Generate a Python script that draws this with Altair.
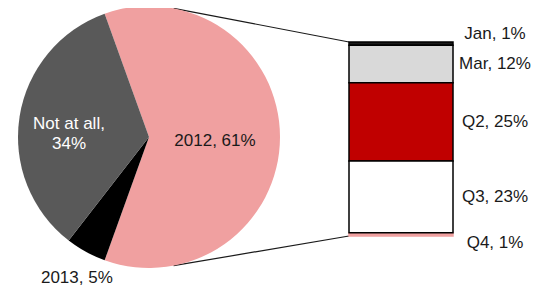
import math
import altair as alt
import pandas as pd

# ---- data ----
pie_names = ["2012", "2013", "Not at all"]
pie_values = [61, 5, 34]
pie_labels = ["2012, 61%", "2013, 5%", "Not at all,\n34%"]

bar_names = ["Jan", "Mar", "Q2", "Q3", "Q4"]
bar_values = [1, 12, 25, 23, 1]
bar_labels = ["Jan, 1%", "Mar, 12%", "Q2, 25%", "Q3, 23%", "Q4, 1%"]

# ---- styles / layout ----
PINK = "#F0A0A0"
pie_colors = [PINK, "#000000", "#595959"]
bar_colors = ["#1a1a1a", "#D9D9D9", "#C00000", "#FFFFFF", PINK]
FONT = "Liberation Sans"
FS = 17

W, H = 523, 279
CX, CY, R = 141, 129, 131
BAR_X0, BAR_X1 = 341, 445
BAR_TOP, BAR_BOTTOM = 34, 228
LABEL_X = 487

pie_total = sum(pie_values)
a0 = 2 * math.pi + math.pi / 2 - math.pi * pie_values[0] / pie_total
theta_scale = alt.Scale(domain=[0, pie_total], range=[a0, a0 + 2 * math.pi])

bar_total = sum(bar_values)
yscale = alt.Scale(domain=[0, bar_total], range=[BAR_BOTTOM, BAR_TOP], zero=False, nice=False)

pie_df = pd.DataFrame({"name": pie_names, "value": pie_values,
                       "label": pie_labels, "idx": list(range(len(pie_names)))})
# stack from the bottom: Q4 first
bar_df = pd.DataFrame({"name": bar_names, "value": bar_values, "label": bar_labels,
                       "sidx": list(range(len(bar_names)))[::-1]})

# ---- pie ----
arc = alt.Chart(pie_df).mark_arc(outerRadius=R).encode(
    theta=alt.Theta("value:Q", stack=True, scale=theta_scale),
    color=alt.Color("name:N", scale=alt.Scale(domain=pie_names, range=pie_colors), legend=None),
    order=alt.Order("idx:Q"),
    x=alt.value(CX), y=alt.value(CY),
)

pie_base = alt.Chart(pie_df).transform_window(
    cum="sum(value)", sort=[alt.SortField("idx")], frame=[None, 0]
).transform_calculate(mid="datum.cum - datum.value / 2")


def pie_label(name, radius, color, dx=0, dy=0):
    return pie_base.transform_filter(alt.datum.name == name).mark_text(
        radius=radius, font=FONT, fontSize=FS, color=color, align="center",
        baseline="middle", lineBreak="\n", lineHeight=20, dx=dx, dy=dy
    ).encode(
        theta=alt.Theta("mid:Q", stack=False, scale=theta_scale),
        text="label:N", x=alt.value(CX), y=alt.value(CY),
    )


lab2012 = pie_label("2012", 66, "#1a1a1a", dy=4)
labNot = pie_label("Not at all", 80, "#FFFFFF", dx=-1, dy=0)
lab2013 = pie_label("2013", 158, "#1a1a1a", dx=4, dy=3)

# ---- stacked bar ----
bar_base = alt.Chart(bar_df).transform_window(
    cum="sum(value)", sort=[alt.SortField("sidx")], frame=[None, 0]
).transform_calculate(start="datum.cum - datum.value", mid="datum.cum - datum.value / 2")


def rects(filt):
    return bar_base.transform_filter(filt).mark_rect(strokeWidth=1.5).encode(
        x=alt.value(BAR_X0), x2=alt.value(BAR_X1),
        y=alt.Y("start:Q", scale=yscale, axis=None), y2="cum:Q",
        fill=alt.Fill("name:N", scale=alt.Scale(domain=bar_names, range=bar_colors), legend=None),
        stroke=alt.condition(alt.datum.name == "Q4", alt.value(PINK), alt.value("#000000")),
    )


rect_q4 = rects(alt.datum.name == "Q4")
rect_rest = rects(alt.datum.name != "Q4")


def bar_label(filt, dy=0):
    return bar_base.transform_filter(filt).mark_text(
        font=FONT, fontSize=FS, color="#1a1a1a", align="center", baseline="middle", dy=dy
    ).encode(
        y=alt.Y("mid:Q", scale=yscale, axis=None), x=alt.value(LABEL_X), text="label:N"
    )


lab_jan = bar_label(alt.datum.name == "Jan", dy=-10)
lab_q4 = bar_label(alt.datum.name == "Q4", dy=9)
lab_mid = bar_label((alt.datum.name != "Jan") & (alt.datum.name != "Q4"))

# ---- connector lines ----
ang_top, ang_bot = math.radians(10.8), math.radians(169.2)


def connector(edge_value, ang):
    px = CX + R * math.sin(ang)
    py = CY - R * math.cos(ang)
    return alt.Chart(pd.DataFrame({"edge": [edge_value]})).mark_rule(
        color="#1a1a1a", strokeWidth=1.2
    ).encode(
        y=alt.Y("edge:Q", scale=yscale, axis=None), x=alt.value(BAR_X0),
        x2=alt.value(px), y2=alt.value(py),
    )


conn_top = connector(bar_total, ang_top)
conn_bot = connector(0, ang_bot)

chart = alt.layer(
    conn_top, conn_bot, arc, lab2012, labNot, lab2013,
    rect_q4, rect_rest, lab_jan, lab_mid, lab_q4,
).properties(
    width=W, height=H, padding=0, autosize=alt.AutoSizeParams(type="none")
).configure_view(stroke=None)

chart.save("out.html", embed_options={"renderer": "svg", "actions": False})
